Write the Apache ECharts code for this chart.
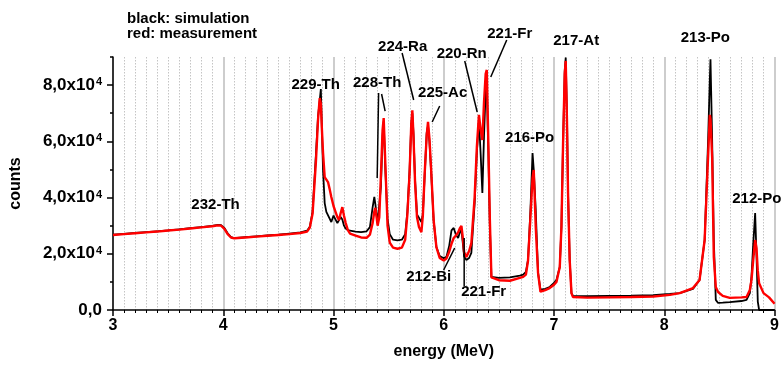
<!DOCTYPE html>
<html><head><meta charset="utf-8">
<script src="https://cdn.jsdelivr.net/npm/echarts@6/dist/echarts.min.js"></script>
<style>html,body{margin:0;padding:0;background:#fff}#c{width:782px;height:368px}</style>
</head><body><div id="c"></div>
<script>
// ---- data (energy in MeV, counts) ----
const energy = [3.00,3.10,3.20,3.30,3.40,3.50,3.60,3.70,3.80,3.90,3.95,3.98,4.01,4.04,4.07,4.10,4.20,4.30,4.40,4.50,4.60,4.70,4.76,
4.785,4.81,4.84,4.86,4.875,4.885,4.895,4.905,4.92,4.935,4.95,4.965,4.98,5.00,5.015,5.035,5.05,5.065,5.08,5.095,5.11,5.13,5.15,5.20,5.25,5.30,
5.33,5.355,5.37,5.38,5.40,5.415,5.43,5.445,5.455,5.47,5.49,5.51,5.54,5.58,5.62,5.65,5.67,5.69,5.705,5.715,5.725,5.74,5.757,5.775,5.797,
5.81,5.827,5.845,5.857,5.87,5.887,5.908,5.933,5.963,6.00,6.024,6.05,6.07,6.09,6.11,6.13,6.145,6.16,6.172,6.185,6.205,6.23,6.25,
6.28,6.30,6.319,6.335,6.35,6.365,6.38,6.39,6.405,6.418,6.432,6.446,6.50,6.60,6.69,6.72,6.745,6.764,6.786,6.805,6.816,6.834,6.855,
6.877,6.89,6.92,6.96,7.00,7.022,7.052,7.067,7.082,7.097,7.106,7.117,7.127,7.142,7.158,7.172,7.30,7.50,7.70,7.90,8.05,8.14,8.26,8.32,
8.366,8.397,8.413,8.419,8.434,8.449,8.467,8.488,8.53,8.594,8.70,8.746,8.776,8.791,8.806,8.824,8.836,8.848,8.86,8.90,8.95,9.00];

const simulation = [26800,27100,27400,27700,28000,28300,28700,29100,29500,29900,30300,30200,29200,27300,25900,25600,25900,26200,26500,26800,27200,27600,28200,
29600,35000,55000,69000,74500,78600,64000,49800,38000,34900,34600,32500,31300,33600,33000,30900,31400,33100,32200,30000,29000,28500,28200,27900,27700,28000,
29500,36600,40200,37500,30900,31000,44000,62000,67000,50000,32500,27000,25000,24800,25000,27000,35000,50000,66000,70000,63000,46000,34000,34500,31300,
34000,48000,63000,65500,60000,48000,32000,22400,19200,18400,18900,23000,28300,29200,26800,25600,27500,28600,24000,19000,17800,18500,20300,
38000,56000,67600,55000,41600,62000,78000,80000,55000,30000,11800,11300,11400,11600,12200,12600,13600,17800,35600,55800,50000,35600,13200,
7200,7000,7500,8200,9600,10700,15300,29500,59400,85000,89800,70000,41600,17800,6000,5000,4900,5000,5100,5300,5700,6000,7500,10700,
24900,60000,82000,89200,60500,24900,3600,2500,2600,2800,3200,3600,6000,12000,23000,34500,20000,3000,0,0,0,0];

const measurement = [26700,27000,27300,27600,27900,28300,28600,29000,29400,29800,30100,30000,28900,27000,25800,25500,25800,26100,26400,26700,27000,27400,27900,
29300,34200,52500,68000,75400,73500,64000,55800,47300,46800,45500,43000,40200,37000,35300,33000,32000,34500,36600,33500,31000,28400,27200,26500,25800,25700,
26800,31000,35000,36300,30000,33000,48000,64000,68300,52000,30000,24000,22200,21800,22200,25000,34000,48700,66000,71000,62000,45000,33100,29500,27700,
33500,48700,62000,66900,61000,48700,32000,22400,18500,17600,18300,20800,23500,25600,26500,27600,29000,29900,26000,20500,18900,21000,23800,
40200,58000,69400,64000,60500,74000,84000,85400,58000,32000,11600,10900,10600,10400,11400,11800,12600,17500,33000,47000,49800,29500,13200,
6500,6600,7100,7800,9000,10000,15300,29500,59400,84000,88600,68000,41600,17800,6000,4600,4400,4500,4600,4800,5400,6000,7800,10700,
24900,54400,69400,68000,54400,18900,8200,6400,5000,4300,4500,4600,7100,10700,17500,24900,22000,14000,9500,6000,4500,2200];

// ---- axis ticks ----
const xTickValues = [3,4,5,6,7,8,9];
const yTickValues = [0,20000,40000,60000,80000];
const yTickMantissa = ['0,0','2,0x10','4,0x10','6,0x10','8,0x10'];
const yTickExponent = ['','4','4','4','4'];

// ---- annotations (data coordinates) ----
const peakNames = ['232-Th','229-Th','228-Th','224-Ra','225-Ac','220-Rn','221-Fr','212-Bi','221-Fr','216-Po','217-At','213-Po','212-Po'];
const peakNameE = [3.930,4.838,5.396,5.627,5.990,6.162,6.598,5.863,6.362,6.779,7.201,8.372,8.839];
const peakNameC = [37350,80030,80920,93550,77370,91060,98170,11740,6400,61360,95680,96930,39660];
const leaderFrom = [[5.409,77190],[5.436,76830],[5.622,91410],[5.963,72560],[6.190,88570],[6.571,96040],[5.999,14230],[6.185,25610]];
const leaderTo   = [[5.396,46950],[5.468,70780],[5.727,74700],[5.895,66870],[6.303,70430],[6.426,82880],[6.099,22050],[6.185,8540]];
const legendLines = ['black: simulation','red: measurement'];

const FONT = '"Liberation Sans", Arial, sans-serif';
const chart = echarts.init(document.getElementById('c'), null, {renderer:'canvas'});

const simData = energy.map((e,i)=>[e, simulation[i]]);
const measData = energy.map((e,i)=>[e, measurement[i]]);

chart.setOption({
  animation:false,
  backgroundColor:'#fff',
  grid:{left:113, right:7, top:57, bottom:58},
  xAxis:{
    type:'value', min:3, max:9, interval:1,
    axisLine:{lineStyle:{color:'#000', width:1.5}},
    axisTick:{length:6, lineStyle:{color:'#000', width:1.5}},
    minorTick:{show:true, splitNumber:10, length:3, lineStyle:{color:'#000', width:1}},
    splitLine:{show:true, lineStyle:{color:'#bdbdbd', width:1.5}},
    minorSplitLine:{show:true, lineStyle:{color:'#c4c4c4', width:1, type:[1.5,1.5]}},
    axisLabel:{color:'#000', fontSize:16, fontWeight:'bold', fontFamily:FONT, margin:8,
      formatter:(v)=> xTickValues.indexOf(v)>=0 ? String(v) : ''},
    name:'energy (MeV)', nameLocation:'middle', nameGap:34,
    nameTextStyle:{color:'#000', fontSize:16, fontWeight:'bold', fontFamily:FONT}
  },
  yAxis:[{
    type:'value', min:0, max:90000, interval:10000,
    axisLine:{show:true, lineStyle:{color:'#000', width:1.5}},
    axisTick:{show:true, length:3, lineStyle:{color:'#000', width:1.5}},
    splitLine:{show:false},
    axisLabel:{color:'#000', margin:11,
      formatter:(v)=>{ const i = yTickValues.indexOf(v); if(i<0) return '';
        return yTickExponent[i] ? '{m|'+yTickMantissa[i]+'}{s|'+yTickExponent[i]+'}' : '{m|'+yTickMantissa[i]+'}'; },
      rich:{
        m:{fontSize:17, fontWeight:'bold', fontFamily:FONT, color:'#000'},
        s:{fontSize:11, fontWeight:'bold', fontFamily:FONT, color:'#000', verticalAlign:'top', padding:[0,0,0,1]}
      }},
    name:'counts', nameLocation:'middle', nameGap:89, nameRotate:90,
    nameTextStyle:{color:'#000', fontSize:16, fontWeight:'bold', fontFamily:FONT}
  },{
    type:'value', min:0, max:90000, interval:20000, position:'left',
    axisLine:{show:false}, axisLabel:{show:false}, splitLine:{show:false},
    axisTick:{show:true, length:6, customValues:yTickValues, lineStyle:{color:'#000', width:1.5}}
  }],
  series:[{
    name:'simulation', type:'line', data:simData, yAxisIndex:0, showSymbol:false, symbol:'none',
    lineStyle:{color:'#000', width:1.8}, z:3
  },{
    name:'measurement', type:'line', data:measData, yAxisIndex:0, showSymbol:false, symbol:'none',
    lineStyle:{color:'#ff0000', width:2.4}, z:4
  }]
});

const toPx = (p)=> chart.convertToPixel({xAxisIndex:0, yAxisIndex:0}, p);
const gfx = [];
peakNames.forEach((t,i)=>{
  const p = toPx([peakNameE[i], peakNameC[i]]);
  gfx.push({type:'text', z:100, style:{text:t, x:p[0], y:p[1], fill:'#000', font:'bold 15px '+FONT,
    align:'center', verticalAlign:'middle', textAlign:'center', textVerticalAlign:'middle'}});
});
leaderFrom.forEach((a,i)=>{
  const p1 = toPx(a), p2 = toPx(leaderTo[i]);
  gfx.push({type:'line', z:100, shape:{x1:p1[0], y1:p1[1], x2:p2[0], y2:p2[1]}, style:{stroke:'#000', lineWidth:1.5}});
});
legendLines.forEach((t,i)=>{
  gfx.push({type:'text', z:100, style:{text:t, x:127, y:19+15*i, fill:'#000', font:'bold 15px '+FONT,
    align:'left', verticalAlign:'middle', textAlign:'left', textVerticalAlign:'middle'}});
});
chart.setOption({graphic:gfx});
</script></body></html>
